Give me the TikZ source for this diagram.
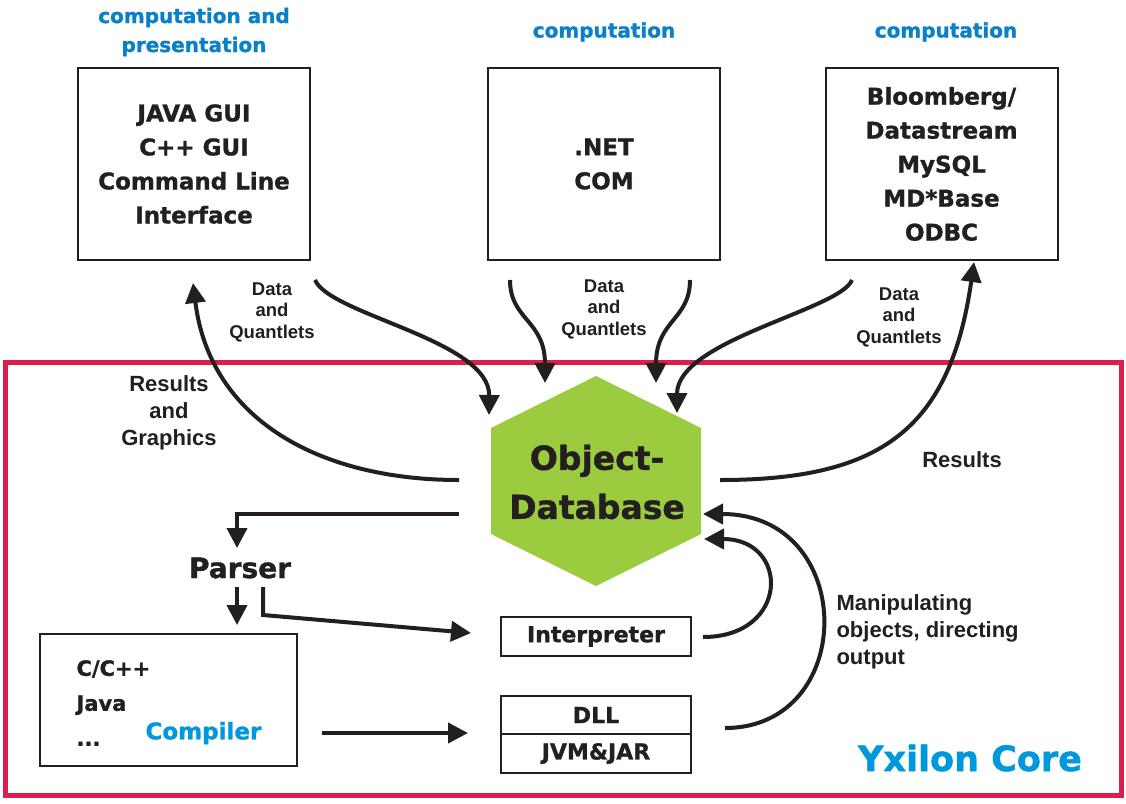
\documentclass[tikz,border=0pt]{standalone}
\usepackage{fontspec}
\setmainfont{DejaVu Sans}
\newfontfamily\hvf{DejaVu Sans Bold}[FakeBold=1.2]
\newfontfamily\arialf{Liberation Sans}
\usetikzlibrary{arrows.meta}
\definecolor{ink}{HTML}{231F20}
\definecolor{redc}{HTML}{DA1F4C}
\definecolor{greenc}{HTML}{9BCB3F}
\definecolor{bluet}{HTML}{0A80C8}
\definecolor{blueb}{HTML}{0098DD}
\begin{document}
\begin{tikzpicture}[x=1pt,y=-1pt,
  conn/.style={draw=ink, line width=4pt, -{Triangle[length=20pt,width=20pt]}},
  topbox/.style={draw=ink, line width=2pt, minimum width=232pt, minimum height=192pt, inner sep=0pt,
    align=center, text=ink, font=\hvf\fontsize{23}{34}\selectfont},
  smallbox/.style={draw=ink, line width=2pt, minimum width=190pt, inner sep=0pt,
    align=center, text=ink, font=\hvf\fontsize{22}{26}\selectfont},
  title/.style={text=bluet, align=center, font=\hvf\fontsize{20}{29}\selectfont},
  dq/.style={text=ink, align=center, font=\arialf\fontsize{18.5}{21.5}\selectfont\bfseries},
  lbl/.style={text=ink, font=\arialf\fontsize{22}{27}\selectfont\bfseries},
  heavy/.style={text=ink, font=\hvf\fontsize{21}{35}\selectfont}
]
\useasboundingbox (0,0) rectangle (1126,803);
\fill[white] (0,0) rectangle (1126,803);

% core frame
\draw[redc, line width=5pt] (5.5,362) rectangle (1121.5,795.5);

% titles
\node[title] (t1) at (194,32) {computation and\\presentation};
\node[title] (t2) at (604,32) {computation};
\node[title] (t3) at (946,32) {computation};

% top boxes
\node[topbox] (b1) at (194,164) {JAVA GUI\\C++ GUI\\Command Line\\Interface};
\node[topbox] (b2) at (604,164) {.NET\\COM};
\node[topbox] (b3) at (941.5,164) {Bloomberg/\\Datastream\\MySQL\\MD*Base\\ODBC};

% hexagon
\coordinate (hT) at (596,376);
\coordinate (hTR) at (701,428);
\coordinate (hBR) at (701,534);
\coordinate (hB) at (596,586);
\coordinate (hBL) at (491,534);
\coordinate (hTL) at (491,428);
\fill[greenc] (hT) -- (hTR) -- (hBR) -- (hB) -- (hBL) -- (hTL) -- cycle;
\node[text=ink, align=center, font=\hvf\fontsize{33}{49}\selectfont] (odb) at (597,482) {Object-\\Database};

% labels
\node[dq] (dq1) at (272,312) {Data\\and\\Quantlets};
\node[dq] (dq2) at (604,309) {Data\\and\\Quantlets};
\node[dq] (dq3) at (899,317) {Data\\and\\Quantlets};
\node[lbl, align=center] (rg) at (169,413) {Results\\and\\Graphics};
\node[lbl] (res) at (962,460) {Results};
\node[lbl, align=left, anchor=west] (man) at (833,632) {Manipulating\\objects, directing\\output};

% parser
\node[text=ink, font=\hvf\fontsize{28}{30}\selectfont] (parser) at (240,568) {Parser};

% compiler box
\node[draw=ink, line width=2pt, minimum width=257pt, minimum height=132pt, inner sep=0pt] (comp) at (168.5,700) {};
\node[heavy, anchor=west, align=left] (langs) at (73,703) {C/C++\\Java\\...};
\node[text=blueb, font=\hvf\fontsize{23}{26}\selectfont, anchor=west] (complbl) at (142,733) {Compiler};

% interpreter, dll, jvm
\node[smallbox, minimum height=39pt] (interp) at (596,636.5) {Interpreter};
\node[smallbox, minimum height=38pt] (dll) at (596,715) {DLL};
\node[smallbox, minimum height=39pt] (jvm) at (596,753.5) {JVM\&JAR};

% core label
\node[text=blueb, font=\hvf\fontsize{35}{38}\selectfont] (core) at (970,758) {Yxilon Core};

% connector end points
\coordinate (s1) at (315,280);  \coordinate (e1) at (489,415);
\coordinate (s2) at (510,280);  \coordinate (e2) at (545,383);
\coordinate (s3) at (690,280);  \coordinate (e3) at (656,383);
\coordinate (s4) at (852,280);  \coordinate (e4) at (677,413);
\coordinate (s5) at (720,480);  \coordinate (e5) at (974,262);
\coordinate (s6) at (459,480);  \coordinate (e6) at (193,283);
\coordinate (s7) at (459,514);  \coordinate (e7) at (237,548);
\coordinate (s8) at (237,587);  \coordinate (e8) at (237,625);
\coordinate (s9) at (263,587);  \coordinate (k9) at (263,615);  \coordinate (e9) at (471,633);
\coordinate (s10) at (322,733); \coordinate (e10) at (468,733);
\coordinate (s11) at (703,637); \coordinate (e11) at (704,539);
\coordinate (s12) at (725,728); \coordinate (e12) at (703,514);

% connectors
\draw[conn] (s1) .. controls (330,315) and (490,340) .. (e1);
\draw[conn] (s2) .. controls (510,320) and (545,320) .. (e2);
\draw[conn] (s3) .. controls (690,320) and (656,320) .. (e3);
\draw[conn] (s4) .. controls (840,310) and (677,340) .. (e4);
\draw[conn] (s5) .. controls (880,480) and (950,430) .. (e5);
\draw[conn] (s6) .. controls (320,480) and (210,420) .. (e6);
\draw[conn] (s7) -| (e7);
\draw[conn] (s8) -- (e8);
\draw[conn] (s9) -- (k9) -- (e9);
\draw[conn] (s10) -- (e10);
\draw[conn] (s11) .. controls (790,637) and (790,539) .. (e11);
\draw[conn] (s12) .. controls (858,728) and (858,514) .. (e12);
\end{tikzpicture}
\end{document}
